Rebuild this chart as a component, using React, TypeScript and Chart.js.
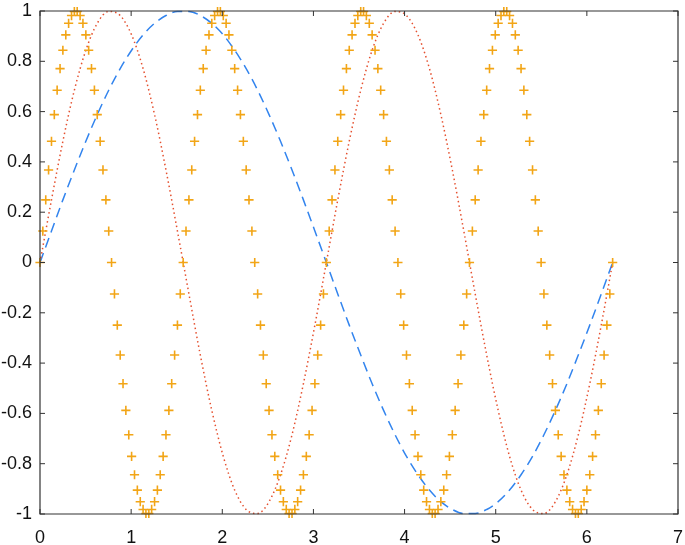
import React, { useEffect, useRef } from "react";
import { Chart, registerables } from "chart.js";

Chart.register(...registerables);

// x positions of the 201 "+" samples (0 .. 2π)
const xFine = [
  0, 0.031, 0.063, 0.094, 0.126, 0.157, 0.188, 0.22, 0.251, 0.283, 0.314, 0.346, 0.377, 0.408, 0.44, 0.471, 0.503, 0.534, 0.565, 0.597,
  0.628, 0.66, 0.691, 0.723, 0.754, 0.785, 0.817, 0.848, 0.88, 0.911, 0.942, 0.974, 1.005, 1.037, 1.068, 1.1, 1.131, 1.162, 1.194, 1.225,
  1.257, 1.288, 1.319, 1.351, 1.382, 1.414, 1.445, 1.477, 1.508, 1.539, 1.571, 1.602, 1.634, 1.665, 1.696, 1.728, 1.759, 1.791, 1.822, 1.854,
  1.885, 1.916, 1.948, 1.979, 2.011, 2.042, 2.073, 2.105, 2.136, 2.168, 2.199, 2.231, 2.262, 2.293, 2.325, 2.356, 2.388, 2.419, 2.45, 2.482,
  2.513, 2.545, 2.576, 2.608, 2.639, 2.67, 2.702, 2.733, 2.765, 2.796, 2.827, 2.859, 2.89, 2.922, 2.953, 2.985, 3.016, 3.047, 3.079, 3.11,
  3.142, 3.173, 3.204, 3.236, 3.267, 3.299, 3.33, 3.362, 3.393, 3.424, 3.456, 3.487, 3.519, 3.55, 3.581, 3.613, 3.644, 3.676, 3.707, 3.738,
  3.77, 3.801, 3.833, 3.864, 3.896, 3.927, 3.958, 3.99, 4.021, 4.053, 4.084, 4.115, 4.147, 4.178, 4.21, 4.241, 4.273, 4.304, 4.335, 4.367,
  4.398, 4.43, 4.461, 4.492, 4.524, 4.555, 4.587, 4.618, 4.65, 4.681, 4.712, 4.744, 4.775, 4.807, 4.838, 4.869, 4.901, 4.932, 4.964, 4.995,
  5.027, 5.058, 5.089, 5.121, 5.152, 5.184, 5.215, 5.246, 5.278, 5.309, 5.341, 5.372, 5.404, 5.435, 5.466, 5.498, 5.529, 5.561, 5.592, 5.623,
  5.655, 5.686, 5.718, 5.749, 5.781, 5.812, 5.843, 5.875, 5.906, 5.938, 5.969, 6.0, 6.032, 6.063, 6.095, 6.126, 6.158, 6.189, 6.22, 6.252,
  6.283,
];

// "+" series values
const yPlus = [
  0, 0.125, 0.249, 0.368, 0.482, 0.588, 0.685, 0.771, 0.844, 0.905, 0.951, 0.982, 0.998, 0.998, 0.982, 0.951, 0.905, 0.844, 0.771, 0.685,
  0.588, 0.482, 0.368, 0.249, 0.125, 0, -0.125, -0.249, -0.368, -0.482, -0.588, -0.685, -0.771, -0.844, -0.905, -0.951, -0.982, -0.998, -0.998, -0.982,
  -0.951, -0.905, -0.844, -0.771, -0.685, -0.588, -0.482, -0.368, -0.249, -0.125,
  0, 0.125, 0.249, 0.368, 0.482, 0.588, 0.685, 0.771, 0.844, 0.905, 0.951, 0.982, 0.998, 0.998, 0.982, 0.951, 0.905, 0.844, 0.771, 0.685,
  0.588, 0.482, 0.368, 0.249, 0.125, 0, -0.125, -0.249, -0.368, -0.482, -0.588, -0.685, -0.771, -0.844, -0.905, -0.951, -0.982, -0.998, -0.998, -0.982,
  -0.951, -0.905, -0.844, -0.771, -0.685, -0.588, -0.482, -0.368, -0.249, -0.125,
  0, 0.125, 0.249, 0.368, 0.482, 0.588, 0.685, 0.771, 0.844, 0.905, 0.951, 0.982, 0.998, 0.998, 0.982, 0.951, 0.905, 0.844, 0.771, 0.685,
  0.588, 0.482, 0.368, 0.249, 0.125, 0, -0.125, -0.249, -0.368, -0.482, -0.588, -0.685, -0.771, -0.844, -0.905, -0.951, -0.982, -0.998, -0.998, -0.982,
  -0.951, -0.905, -0.844, -0.771, -0.685, -0.588, -0.482, -0.368, -0.249, -0.125,
  0, 0.125, 0.249, 0.368, 0.482, 0.588, 0.685, 0.771, 0.844, 0.905, 0.951, 0.982, 0.998, 0.998, 0.982, 0.951, 0.905, 0.844, 0.771, 0.685,
  0.588, 0.482, 0.368, 0.249, 0.125, 0, -0.125, -0.249, -0.368, -0.482, -0.588, -0.685, -0.771, -0.844, -0.905, -0.951, -0.982, -0.998, -0.998, -0.982,
  -0.951, -0.905, -0.844, -0.771, -0.685, -0.588, -0.482, -0.368, -0.249, -0.125,
  0,
];

// x positions of the two curves
const xCoarse = [
  0, 0.126, 0.251, 0.377, 0.503, 0.628, 0.754, 0.88, 1.005, 1.131, 1.257, 1.382, 1.508, 1.634, 1.759, 1.885, 2.011, 2.136, 2.262, 2.388,
  2.513, 2.639, 2.765, 2.89, 3.016, 3.142, 3.267, 3.393, 3.519, 3.644, 3.77, 3.896, 4.021, 4.147, 4.273, 4.398, 4.524, 4.65, 4.775, 4.901,
  5.027, 5.152, 5.278, 5.404, 5.529, 5.655, 5.781, 5.906, 6.032, 6.158, 6.283,
];

// dashed blue curve
const yDashed = [
  0, 0.125, 0.249, 0.368, 0.482, 0.588, 0.685, 0.771, 0.844, 0.905, 0.951, 0.982, 0.998, 0.998, 0.982, 0.951, 0.905, 0.844, 0.771, 0.685,
  0.588, 0.482, 0.368, 0.249, 0.125, 0, -0.125, -0.249, -0.368, -0.482, -0.588, -0.685, -0.771, -0.844, -0.905, -0.951, -0.982, -0.998, -0.998, -0.982,
  -0.951, -0.905, -0.844, -0.771, -0.685, -0.588, -0.482, -0.368, -0.249, -0.125, 0,
];

// dotted red curve
const yDotted = [
  0, 0.249, 0.482, 0.685, 0.844, 0.951, 0.998, 0.982, 0.905, 0.771, 0.588, 0.368, 0.125, -0.125, -0.368, -0.588, -0.771, -0.905, -0.982, -0.998,
  -0.951, -0.844, -0.685, -0.482, -0.249,
  0, 0.249, 0.482, 0.685, 0.844, 0.951, 0.998, 0.982, 0.905, 0.771, 0.588, 0.368, 0.125, -0.125, -0.368, -0.588, -0.771, -0.905, -0.982, -0.998,
  -0.951, -0.844, -0.685, -0.482, -0.249, 0,
];

const X_MIN = 0;
const X_MAX = 7;
const Y_MIN = -1;
const Y_MAX = 1;
const xTicks = [0, 1, 2, 3, 4, 5, 6, 7];
const yTicks = [-1, -0.8, -0.6, -0.4, -0.2, 0, 0.2, 0.4, 0.6, 0.8, 1];

const FONT = '"Liberation Sans", Arial, Helvetica, sans-serif';
const AXIS_COLOR = "#333333";

const boxPlugin = {
  id: "boxTicks",
  afterDraw(chart: any) {
    const { ctx, chartArea } = chart;
    const xs = chart.scales.x;
    const ys = chart.scales.y;
    const { left, right, top, bottom } = chartArea;
    ctx.save();
    ctx.strokeStyle = AXIS_COLOR;
    ctx.lineWidth = 1.2;
    ctx.beginPath();
    ctx.rect(left, top, right - left, bottom - top);
    ctx.stroke();
    const tl = 5;
    ctx.lineWidth = 1;
    ctx.beginPath();
    for (const v of xTicks) {
      const px = xs.getPixelForValue(v);
      ctx.moveTo(px, bottom);
      ctx.lineTo(px, bottom - tl);
      ctx.moveTo(px, top);
      ctx.lineTo(px, top + tl);
    }
    for (const v of yTicks) {
      const py = ys.getPixelForValue(v);
      ctx.moveTo(left, py);
      ctx.lineTo(left + tl, py);
      ctx.moveTo(right, py);
      ctx.lineTo(right - tl, py);
    }
    ctx.stroke();
    ctx.restore();
  },
};

const zeroPad = (s: any) => {
  s.paddingTop = 0;
  s.paddingBottom = 0;
  s.paddingLeft = 0;
  s.paddingRight = 0;
};

export default function App() {
  const ref = useRef<HTMLCanvasElement | null>(null);

  useEffect(() => {
    if (!ref.current) return;
    const chart = new Chart(ref.current, {
      type: "line",
      data: {
        datasets: [
          {
            label: "plus",
            data: xFine.map((x, i) => ({ x, y: yPlus[i] })),
            showLine: false,
            pointStyle: "cross",
            pointRadius: 4.6,
            pointBorderWidth: 1.6,
            borderColor: "#f2a516",
            backgroundColor: "#f2a516",
            order: 0,
            clip: false,
          },
          {
            label: "dotted",
            data: xCoarse.map((x, i) => ({ x, y: yDotted[i] })),
            borderColor: "#e5502f",
            borderWidth: 1.5,
            borderDash: [1.5, 3],
            pointRadius: 0,
            cubicInterpolationMode: "monotone",
            order: 1,
            clip: false,
          },
          {
            label: "dashed",
            data: xCoarse.map((x, i) => ({ x, y: yDashed[i] })),
            borderColor: "#3284ee",
            borderWidth: 1.5,
            borderDash: [10, 6],
            pointRadius: 0,
            cubicInterpolationMode: "monotone",
            order: 2,
            clip: false,
          },
        ],
      },
      options: {
        animation: false,
        responsive: false,
        maintainAspectRatio: false,
        layout: { padding: { top: 11, right: 7, left: 0, bottom: 0 } },
        plugins: { legend: { display: false }, tooltip: { enabled: false } },
        scales: {
          x: {
            type: "linear",
            min: X_MIN,
            max: X_MAX,
            grid: { display: false, drawTicks: false },
            border: { display: false },
            afterFit: (s: any) => {
              s.height = 31;
              zeroPad(s);
            },
            afterBuildTicks: (s: any) => {
              s.ticks = xTicks.map((v) => ({ value: v }));
            },
            ticks: {
              padding: 13,
              color: "#111",
              font: { family: FONT, size: 18 },
              maxRotation: 0,
              callback: (v: any) => String(v),
            },
          },
          y: {
            type: "linear",
            min: Y_MIN,
            max: Y_MAX,
            grid: { display: false, drawTicks: false },
            border: { display: false },
            afterFit: (s: any) => {
              s.width = 40;
              zeroPad(s);
            },
            afterBuildTicks: (s: any) => {
              s.ticks = yTicks.map((v) => ({ value: v }));
            },
            ticks: {
              padding: 8,
              color: "#111",
              font: { family: FONT, size: 18 },
              callback: (v: any) => String(Math.round(Number(v) * 10) / 10),
            },
          },
        },
      },
      plugins: [boxPlugin],
    });
    return () => chart.destroy();
  }, []);

  return (
    <div style={{ position: "fixed", left: 0, top: 0, width: 685, height: 545, background: "#fff" }}>
      <canvas ref={ref} width={685} height={545} style={{ display: "block" }} />
    </div>
  );
}
